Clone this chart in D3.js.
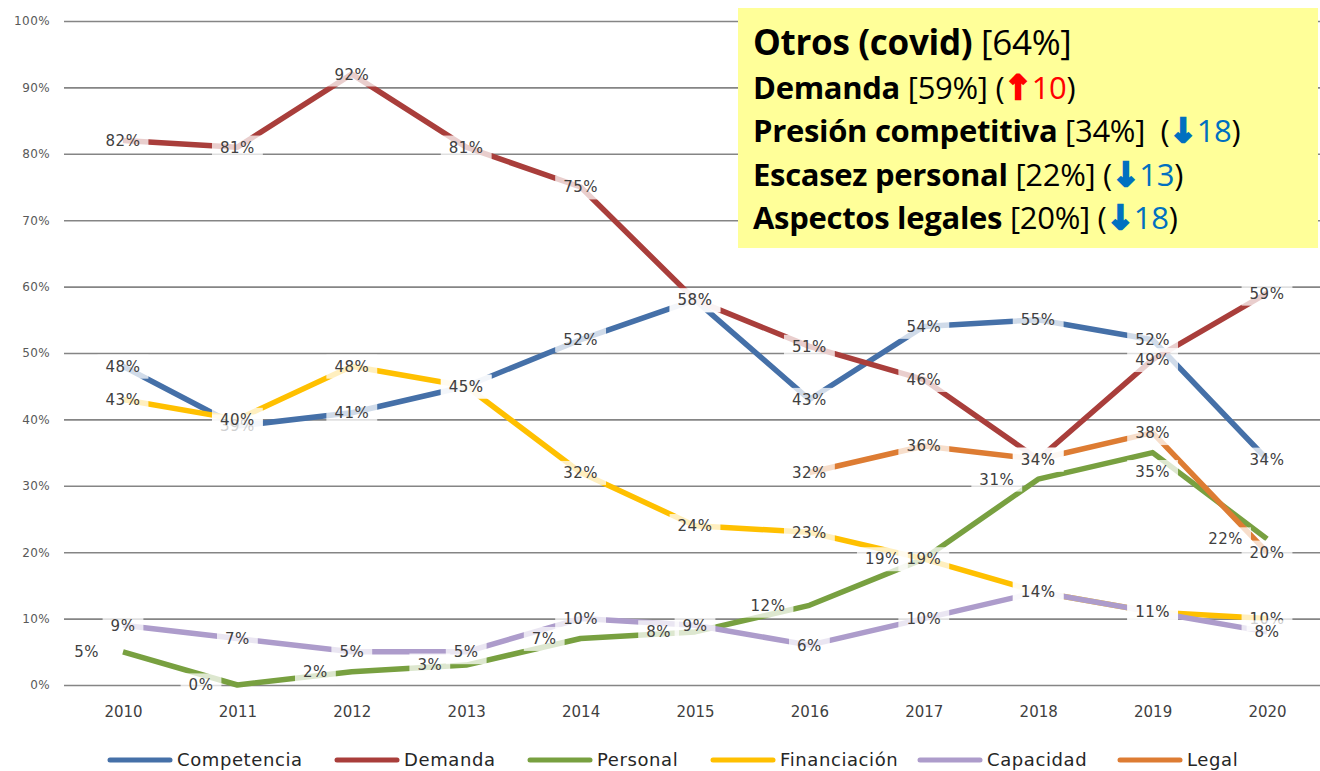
<!DOCTYPE html>
<html>
<head>
<meta charset="utf-8">
<script src="https://cdn.jsdelivr.net/npm/d3@7"></script>
<style>
  body { margin: 0; background: #fff; }
  svg { display: block; }
  text { font-family: "DejaVu Sans", Verdana, sans-serif; }
  .note text { font-family: "Open Sans", Lato, sans-serif; }
</style>
</head>
<body>
<svg width="1320" height="771"></svg>
<script>
// chart values
var years = ['2010','2011','2012','2013','2014','2015','2016','2017','2018','2019','2020'];
var competencia  = [48, 39, 41, 45, 52, 58, 43, 54, 55, 52, 34];
var demanda      = [82, 81, 92, 81, 75, 58, 51, 46, 34, 49, 59];
var personal     = [5, 0, 2, 3, 7, 8, 12, 19, 31, 35, 22];
var financiacion = [43, 40, 48, 45, 32, 24, 23, 19, 14, 11, 10];
var capacidad    = [9, 7, 5, 5, 10, 9, 6, 10, 14, 11, 8];
var legal        = [null, null, null, null, null, null, 32, 36, 34, 38, 20];
var yTicks = [0, 10, 20, 30, 40, 50, 60, 70, 80, 90, 100];

// the yellow note
var noteLines = [
  {bold: 'Otros (covid)', rest: ' [64%]', big: true},
  {bold: 'Demanda', rest: ' [59%] (', arrow: '↑', delta: '10', up: true},
  {bold: 'Presión competitiva', rest: ' [34%]\u00a0\u00a0(', arrow: '↓', delta: '18', up: false},
  {bold: 'Escasez personal', rest: ' [22%] (', arrow: '↓', delta: '13', up: false},
  {bold: 'Aspectos legales', rest: ' [20%] (', arrow: '↓', delta: '18', up: false}
];

var series = [
  {name: 'Competencia',  values: competencia,  color: '#4570A8', pos: 'c'},
  {name: 'Demanda',      values: demanda,      color: '#A93E3B', pos: 'c'},
  {name: 'Personal',     values: personal,     color: '#78A040', pos: 'l', posAt: {'2019': 'b'}},
  {name: 'Financiación', values: financiacion, color: '#FFC000', pos: 'c'},
  {name: 'Capacidad',    values: capacidad,    color: '#AD9CCB', pos: 'c'},
  {name: 'Legal',        values: legal,        color: '#DD7C33', pos: 'c'}
];

var svg = d3.select('svg');

var x = d3.scalePoint().domain(years).range([123, 1267]);
var y = d3.scaleLinear().domain([0, 100]).range([685, 21]);

// gridlines + y labels
var yAxis = svg.append('g')
  .attr('transform', 'translate(64,0)')
  .call(d3.axisLeft(y).tickValues(yTicks).tickSize(-1256).tickPadding(14)
    .tickFormat(function(d) { return d + '%'; }));
yAxis.select('.domain').remove();
yAxis.selectAll('line').attr('stroke', '#858585').attr('stroke-width', 1.6);
yAxis.selectAll('text').attr('fill', '#595959').style('font-size', '12px')
  .style('letter-spacing', '0.4px')
  .style('font-family', '"DejaVu Sans", sans-serif');

// x labels
var xAxis = svg.append('g')
  .attr('transform', 'translate(0,685)')
  .call(d3.axisBottom(x).tickSize(0).tickPadding(21));
xAxis.select('.domain').remove();
xAxis.selectAll('text').attr('fill', '#404040').style('font-size', '15px')
  .style('font-family', '"DejaVu Sans", sans-serif');

// lines
var line = d3.line()
  .defined(function(d) { return d.v != null; })
  .x(function(d) { return x(d.year); })
  .y(function(d) { return y(d.v); });

series.forEach(function(s) {
  var pts = years.map(function(yr, i) { return {year: yr, v: s.values[i]}; });
  svg.append('path')
    .datum(pts)
    .attr('d', line)
    .attr('fill', 'none')
    .attr('stroke', s.color)
    .attr('stroke-width', 5.5)
    .attr('stroke-linejoin', 'round');
});

// data labels
series.forEach(function(s) {
  years.forEach(function(yr, i) {
    var v = s.values[i];
    if (v == null) return;
    var p = (s.posAt && s.posAt[yr]) || s.pos;
    var px = x(yr), py = y(v);
    var g = svg.append('g');
    var t = g.append('text')
      .attr('fill', '#404040')
      .style('font-size', '15px')
      .style('letter-spacing', '0.5px')
      .attr('dy', '0.36em')
      .text(v + '%');
    if (p === 'l') {
      t.attr('x', px - 24).attr('y', py).attr('text-anchor', 'end');
    } else if (p === 'b') {
      t.attr('x', px).attr('y', py + 19).attr('text-anchor', 'middle');
    } else {
      t.attr('x', px).attr('y', py).attr('text-anchor', 'middle');
    }
    var b = t.node().getBBox();
    g.insert('rect', 'text')
      .attr('x', b.x - 8).attr('y', b.y - 3)
      .attr('width', b.width + 16).attr('height', b.height + 6)
      .attr('fill', '#fff').attr('fill-opacity', 0.75);
  });
});

// legend
var legendX = [110, 337, 530, 713, 920, 1120];
var legend = svg.append('g').attr('transform', 'translate(0,760)');
series.forEach(function(s, i) {
  legend.append('line')
    .attr('x1', legendX[i]).attr('x2', legendX[i] + 60)
    .attr('y1', 0).attr('y2', 0)
    .attr('stroke', s.color).attr('stroke-width', 5).attr('stroke-linecap', 'round');
  legend.append('text')
    .attr('x', legendX[i] + 67).attr('y', 0).attr('dy', '0.35em')
    .attr('fill', '#262626').style('font-size', '18px')
    .style('letter-spacing', '0.6px')
    .text(s.name);
});

// note box
var note = svg.append('g').attr('class', 'note');
note.append('rect')
  .attr('x', 738).attr('y', 8).attr('width', 580).attr('height', 240)
  .attr('fill', '#FFFF99');
noteLines.forEach(function(l, i) {
  var t = note.append('text')
    .attr('x', 753).attr('y', 55 + i * 43.5)
    .attr('fill', '#000')
    .style('font-size', l.big ? '35px' : '31px')
    .style('letter-spacing', '-0.3px');
  t.append('tspan').attr('font-weight', 'bold').text(l.bold);
  t.append('tspan').text(l.rest);
  if (l.arrow) {
    var c = l.up ? '#FF0000' : '#0070C0';
    t.append('tspan')
      .attr('fill', c).attr('stroke', c).attr('stroke-width', 2.5)
      .attr('font-weight', 'bold')
      .style('font-family', '"DejaVu Sans", sans-serif')
      .style('font-size', '33px')
      .text(l.arrow);
    t.append('tspan').attr('fill', c).text(l.delta);
    t.append('tspan').text(')');
  }
});
</script>
</body>
</html>
